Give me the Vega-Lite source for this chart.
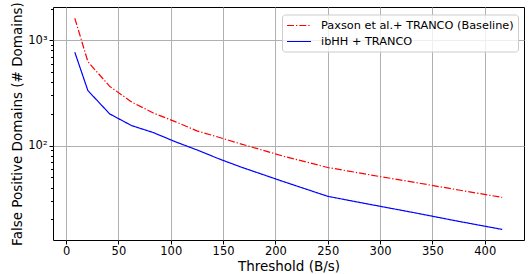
{
  "$schema": "https://vega.github.io/schema/vega-lite/v6.json",
  "width": 471,
  "height": 233,
  "autosize": {"type": "none"},
  "padding": {"left": 53, "top": 7, "right": 7, "bottom": 34},
  "background": "white",
  "config": {
    "view": {"stroke": "black", "strokeWidth": 1},
    "font": "DejaVu Sans",
    "axis": {
      "labelFont": "DejaVu Sans",
      "titleFont": "DejaVu Sans",
      "labelFontSize": 11.5,
      "titleFontSize": 13.5,
      "labelColor": "black",
      "titleColor": "black",
      "titleFontWeight": "normal",
      "tickColor": "black",
      "tickSize": 4,
      "domain": false,
      "gridColor": "#b0b0b0",
      "gridWidth": 1
    },
    "legend": {
      "title": null,
      "orient": "none",
      "legendX": 229,
      "legendY": 7.5,
      "symbolType": "M-1,0H3",
      "symbolSize": 144,
      "symbolStrokeWidth": 1.2,
      "labelFont": "DejaVu Sans",
      "labelFontSize": 11.3,
      "labelColor": "black",
      "labelOffset": 21,
      "labelLimit": 300,
      "padding": 4,
      "rowPadding": 3,
      "strokeColor": "#cccccc",
      "fillColor": "rgba(255,255,255,0.8)",
      "cornerRadius": 3
    }
  },
  "data": {
    "values": [
      {"series": "Paxson et al.+ TRANCO (Baseline)", "x": 8.33, "y": 1620},
      {"series": "Paxson et al.+ TRANCO (Baseline)", "x": 20.83, "y": 627},
      {"series": "Paxson et al.+ TRANCO (Baseline)", "x": 41.67, "y": 365},
      {"series": "Paxson et al.+ TRANCO (Baseline)", "x": 62.5, "y": 260},
      {"series": "Paxson et al.+ TRANCO (Baseline)", "x": 83.33, "y": 204},
      {"series": "Paxson et al.+ TRANCO (Baseline)", "x": 104.17, "y": 169},
      {"series": "Paxson et al.+ TRANCO (Baseline)", "x": 125, "y": 138},
      {"series": "Paxson et al.+ TRANCO (Baseline)", "x": 145.83, "y": 120},
      {"series": "Paxson et al.+ TRANCO (Baseline)", "x": 166.67, "y": 104},
      {"series": "Paxson et al.+ TRANCO (Baseline)", "x": 208.33, "y": 79},
      {"series": "Paxson et al.+ TRANCO (Baseline)", "x": 250, "y": 62},
      {"series": "Paxson et al.+ TRANCO (Baseline)", "x": 291.67, "y": 52.5},
      {"series": "Paxson et al.+ TRANCO (Baseline)", "x": 333.33, "y": 44.7},
      {"series": "Paxson et al.+ TRANCO (Baseline)", "x": 375, "y": 37.9},
      {"series": "Paxson et al.+ TRANCO (Baseline)", "x": 416.67, "y": 32.2},
      {"series": "ibHH + TRANCO", "x": 8.33, "y": 770},
      {"series": "ibHH + TRANCO", "x": 20.83, "y": 333},
      {"series": "ibHH + TRANCO", "x": 41.67, "y": 200},
      {"series": "ibHH + TRANCO", "x": 62.5, "y": 155},
      {"series": "ibHH + TRANCO", "x": 83.33, "y": 133},
      {"series": "ibHH + TRANCO", "x": 104.17, "y": 109},
      {"series": "ibHH + TRANCO", "x": 125, "y": 91},
      {"series": "ibHH + TRANCO", "x": 145.83, "y": 75},
      {"series": "ibHH + TRANCO", "x": 166.67, "y": 62.8},
      {"series": "ibHH + TRANCO", "x": 208.33, "y": 45.3},
      {"series": "ibHH + TRANCO", "x": 250, "y": 33},
      {"series": "ibHH + TRANCO", "x": 291.67, "y": 27.5},
      {"series": "ibHH + TRANCO", "x": 333.33, "y": 23},
      {"series": "ibHH + TRANCO", "x": 375, "y": 19.1},
      {"series": "ibHH + TRANCO", "x": 416.67, "y": 16}
    ]
  },
  "mark": {"type": "line", "strokeWidth": 1.2, "clip": true},
  "encoding": {
    "x": {
      "field": "x",
      "type": "quantitative",
      "title": "Threshold (B/s)",
      "scale": {"domain": [-12.5, 437.5], "nice": false, "zero": false},
      "axis": {"values": [0, 50, 100, 150, 200, 250, 300, 350, 400], "labelPadding": 1, "titlePadding": 3, "labelFlush": false}
    },
    "y": {
      "field": "y",
      "type": "quantitative",
      "title": "False Positive Domains (# Domains)",
      "scale": {"type": "log", "domain": [12.7, 2070], "nice": false},
      "axis": {
        "values": [20, 30, 40, 50, 60, 70, 80, 90, 100, 200, 300, 400, 500, 600, 700, 800, 900, 1000, 2000],
        "labelExpr": "datum.value == 100 ? '10²' : (datum.value == 1000 ? '10³' : '')",
        "tickSize": {"condition": {"test": "datum.value == 100 || datum.value == 1000", "value": 4}, "value": 2.5},
        "gridOpacity": {"condition": {"test": "datum.value == 100 || datum.value == 1000", "value": 1}, "value": 0},
        "labelPadding": 2,
        "titlePadding": 3,
        "labelFlush": false
      }
    },
    "color": {
      "field": "series",
      "type": "nominal",
      "sort": ["Paxson et al.+ TRANCO (Baseline)", "ibHH + TRANCO"],
      "scale": {"domain": ["Paxson et al.+ TRANCO (Baseline)", "ibHH + TRANCO"], "range": ["#ff0000", "#0000ff"]},
      "legend": {"title": null}
    },
    "strokeDash": {
      "field": "series",
      "type": "nominal",
      "sort": ["Paxson et al.+ TRANCO (Baseline)", "ibHH + TRANCO"],
      "scale": {"domain": ["Paxson et al.+ TRANCO (Baseline)", "ibHH + TRANCO"], "range": [[7, 2, 1.3, 2], [1, 0]]},
      "legend": {"title": null}
    }
  }
}
